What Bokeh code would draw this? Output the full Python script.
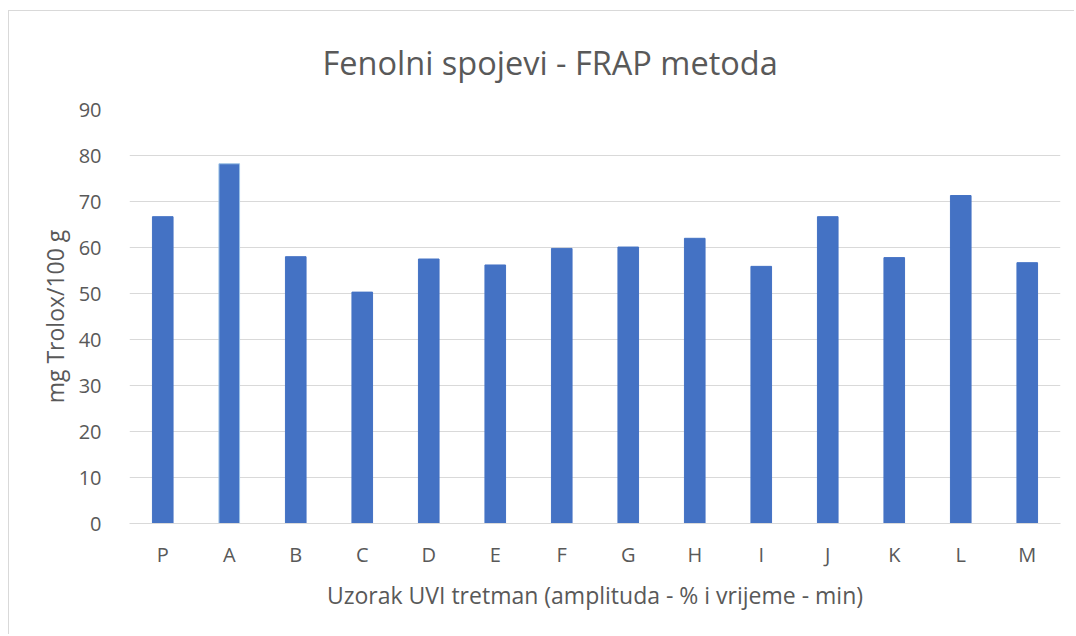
from bokeh.plotting import figure
from bokeh.models import ColumnDataSource, FactorRange, Range1d, FixedTicker, Title
from bokeh.embed import file_html
from bokeh.resources import INLINE

categories = ["P", "A", "B", "C", "D", "E", "F", "G", "H", "I", "J", "K", "L", "M"]
values = [66.7, 78.2, 58.0, 50.3, 57.5, 56.2, 59.8, 60.1, 62.0, 55.9, 66.7, 57.8, 71.3, 56.7]
y_ticks = [0, 10, 20, 30, 40, 50, 60, 70, 80, 90]

title_text = "Fenolni spojevi - FRAP metoda"
x_label = "Uzorak UVI tretman (amplituda - % i vrijeme - min)"
y_label = "mg Trolox/100 g"

TEXT = "#595959"
FONT = "Open Sans"

line_colors = ["#4472C4"] * len(categories)
line_colors[1] = "#9DC3E6"

src = ColumnDataSource(dict(cat=categories, val=values, lc=line_colors))

p = figure(
    x_range=FactorRange(*categories, range_padding=0),
    y_range=Range1d(0, 90),
    width=1066, height=624,
    output_backend="svg", toolbar_location=None,
    min_border_left=120, min_border_right=15,
    min_border_top=98, min_border_bottom=112,
)
p.styles = {"margin-left": "8px", "margin-top": "10px",
            "border-top": "1px solid #d9d9d9", "border-left": "1px solid #d9d9d9"}

p.vbar(x="cat", top="val", width=0.31, source=src,
       fill_color="#4472C4", line_color="lc", line_width=1)

t = Title(text=title_text, align="left", offset=193,
          text_font=FONT, text_font_size="32.5px", text_font_style="normal",
          text_color=TEXT, standoff=50)
p.add_layout(t, "above")

p.outline_line_color = None
p.xgrid.grid_line_color = None
p.ygrid.grid_line_color = "#d9d9d9"
p.ygrid.grid_line_width = 1
p.yaxis.ticker = FixedTicker(ticks=y_ticks)

for ax in (p.xaxis[0], p.yaxis[0]):
    ax.major_tick_line_color = None
    ax.minor_tick_line_color = None
    ax.major_label_text_font = FONT
    ax.major_label_text_font_size = "20px"
    ax.major_label_text_color = TEXT
    ax.axis_label_text_font = FONT
    ax.axis_label_text_font_size = "23px"
    ax.axis_label_text_font_style = "normal"
    ax.axis_label_text_color = TEXT

p.yaxis.axis_line_color = None
p.yaxis.axis_label = y_label
p.yaxis.major_label_standoff = 22
p.yaxis.axis_label_standoff = 5

p.xaxis.axis_line_color = "#d9d9d9"
p.xaxis.axis_line_width = 1
p.xaxis.axis_label = x_label
p.xaxis.major_label_standoff = 11
p.xaxis.axis_label_standoff = 8

open("out.html", "w").write(file_html(p, INLINE))
